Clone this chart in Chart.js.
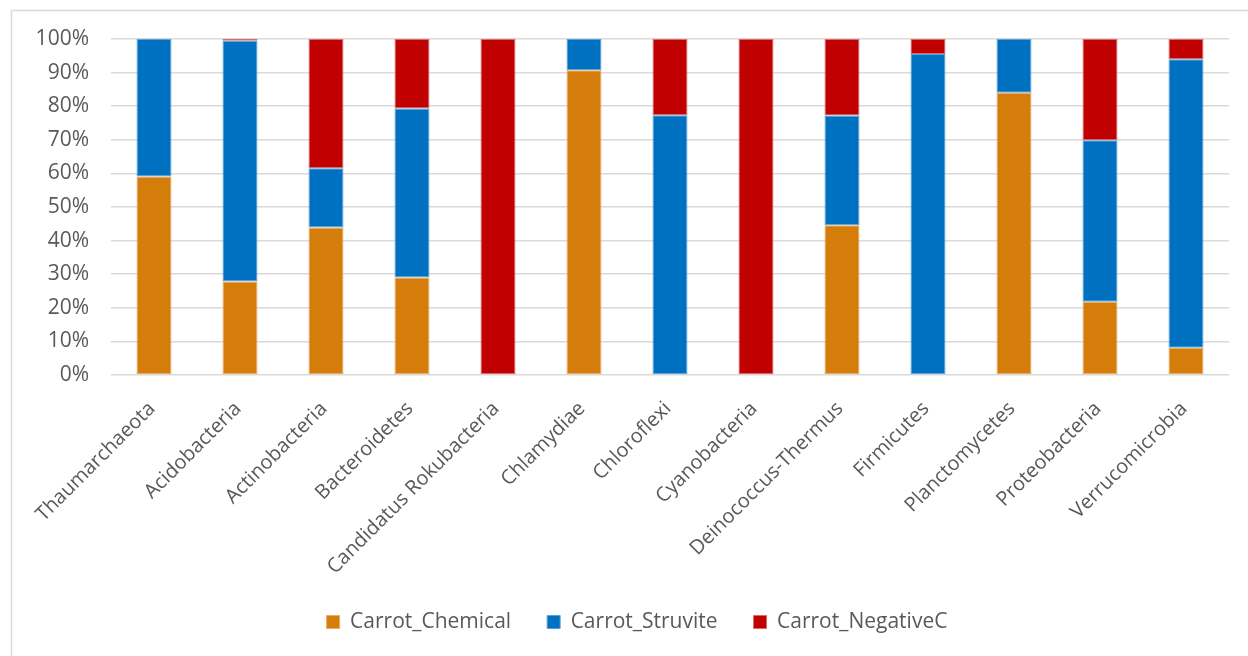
<!DOCTYPE html>
<html>
<head>
<meta charset="utf-8">
<script src="https://cdn.jsdelivr.net/npm/chart.js@4.4.1/dist/chart.umd.min.js"></script>
<style>
  html, body { margin: 0; padding: 0; background: #ffffff; }
  #wrap { position: relative; width: 1248px; height: 656px; }
  canvas { display: block; }
</style>
</head>
<body>
<div id="wrap"><canvas id="chart" width="1248" height="656"></canvas></div>
<script>
// Phylum names along the category axis
const phyla = [
  "Thaumarchaeota", "Acidobacteria", "Actinobacteria", "Bacteroidetes",
  "Candidatus Rokubacteria", "Chlamydiae", "Chloroflexi", "Cyanobacteria",
  "Deinococcus-Thermus", "Firmicutes", "Planctomycetes", "Proteobacteria",
  "Verrucomicrobia"
];

// Relative share (%) of each phylum per treatment
const carrotChemical  = [59.1, 27.8, 43.9, 29.0,   0, 90.7,    0,   0, 44.6,    0, 84.0, 21.8,  8.1];
const carrotStruvite  = [40.9, 71.7, 17.6, 50.3,   0,  9.3, 77.3,   0, 32.6, 95.5, 16.0, 48.1, 85.9];
const carrotNegativeC = [   0,  0.5, 38.5, 20.7, 100,    0, 22.7, 100, 22.8,  4.5,    0, 30.1,  6.0];

const seriesNames  = ["Carrot_Chemical", "Carrot_Struvite", "Carrot_NegativeC"];
const seriesColors = ["#D57D0A", "#0070C0", "#C00000"];
const seriesEdges  = ["#E9AE66", "#5AA3DA", "#DB6A6A"];

const yTicks = [0, 10, 20, 30, 40, 50, 60, 70, 80, 90, 100];

const textColor = "#595959";
const fontFamily = "'Open Sans', 'DejaVu Sans', sans-serif";

// Light frame around the chart object
const framePlugin = {
  id: "frame",
  beforeDraw(chart) {
    const ctx = chart.ctx;
    ctx.save();
    ctx.strokeStyle = "#D9D9D9";
    ctx.lineWidth = 1.5;
    ctx.beginPath();
    ctx.moveTo(11.5, 656);
    ctx.lineTo(11.5, 10.5);
    ctx.lineTo(1248, 10.5);
    ctx.stroke();
    ctx.restore();
  }
};

// Let tick labels spill past their axis box instead of being clipped
const noLabelClip = scale => { scale._computeLabelArea = () => undefined; };

const datasets = [carrotChemical, carrotStruvite, carrotNegativeC].map((vals, i) => ({
  label: seriesNames[i],
  data: vals,
  backgroundColor: seriesColors[i],
  borderColor: seriesEdges[i],
  borderWidth: 1,
  borderSkipped: false,
  barPercentage: 0.407,
  categoryPercentage: 1.0
}));

new Chart(document.getElementById("chart"), {
  type: "bar",
  data: { labels: phyla, datasets },
  plugins: [framePlugin],
  options: {
    responsive: false,
    animation: false,
    devicePixelRatio: 1,
    layout: { padding: { left: 45, right: 19, top: 39, bottom: 13.5 } },
    scales: {
      x: {
        stacked: true,
        grid: { display: false },
        border: { display: false },
        ticks: {
          color: textColor,
          font: { family: fontFamily, size: 20 },
          minRotation: 45,
          maxRotation: 45,
          autoSkip: false,
          padding: 14,
          labelOffset: -2
        },
        afterFit(scale) { scale.height = 200.5; noLabelClip(scale); }
      },
      y: {
        stacked: true,
        min: 0,
        max: 100,
        afterBuildTicks(scale) { scale.ticks = yTicks.map(v => ({ value: v })); },
        grid: { color: "#D9D9D9", lineWidth: 1.5, drawTicks: false },
        border: { display: false },
        ticks: {
          color: textColor,
          font: { family: fontFamily, size: 21 },
          padding: 22,
          callback: v => v + "%"
        },
        afterFit(scale) { scale.width = 66; noLabelClip(scale); }
      }
    },
    plugins: {
      legend: {
        position: "bottom",
        labels: {
          color: textColor,
          font: { family: fontFamily, size: 21 },
          boxWidth: 13,
          boxHeight: 13,
          padding: 36
        }
      },
      tooltip: { enabled: false }
    }
  }
});
</script>
</body>
</html>
